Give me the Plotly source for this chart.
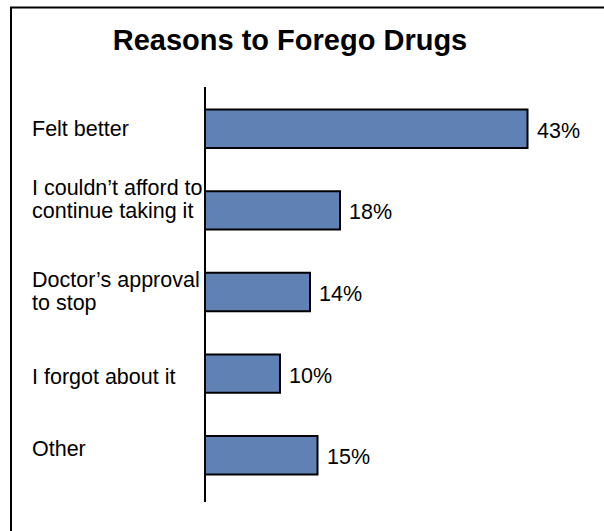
import plotly.graph_objects as go

# Survey results: reasons patients gave for stopping their medication
categories = [
    "Felt better",
    "I couldn’t afford to<br>continue taking it",
    "Doctor’s approval<br>to stop",
    "I forgot about it",
    "Other",
]
values = [43, 18, 14, 10, 15]
value_labels = ["43%", "18%", "14%", "10%", "15%"]
title_text = "Reasons to Forego Drugs"

W, H = 604, 531
plot_left, plot_right = 205, 595
plot_top, plot_bottom = 88, 496
px_per_pct = 7.5

FONT = "Arial, Liberation Sans, sans-serif"
BAR_COLOR = "#6081B3"
TEXT_SIZE = 21.5
LINE_PITCH = 23

pw = plot_right - plot_left
ph = plot_bottom - plot_top


def px_x(px):
    return (px - plot_left) / pw


def px_y(py):
    return (plot_bottom - py) / ph


fig = go.Figure(
    go.Bar(
        x=values,
        y=categories,
        orientation="h",
        width=0.47,
        marker=dict(color=BAR_COLOR, line=dict(color="black", width=2)),
        hoverinfo="skip",
    )
)

# category names, left-aligned in the left margin, one annotation per line
label_shift = [0, 11, 1, -3, 6]
for cat, dy in zip(categories, label_shift):
    lines = cat.split("<br>")
    n = len(lines)
    for i, line in enumerate(lines):
        offset = ((n - 1) / 2 - i) * LINE_PITCH
        fig.add_annotation(
            x=px_x(30), xref="paper", y=cat, yref="y",
            text=line, showarrow=False, xanchor="left", align="left",
            yshift=dy + offset,
            font=dict(family=FONT, size=TEXT_SIZE, color="black"),
        )

# value labels just past the end of each bar
for cat, v, lab in zip(categories, values, value_labels):
    fig.add_annotation(
        x=v, xref="x", y=cat, yref="y",
        text=lab, showarrow=False, xanchor="left", xshift=7, yshift=-2,
        font=dict(family=FONT, size=TEXT_SIZE, color="black"),
    )

# vertical category axis line
fig.add_shape(
    type="line", xref="paper", yref="paper",
    x0=0, x1=0, y0=px_y(502), y1=px_y(87),
    line=dict(color="black", width=2),
)

# outer frame (right and bottom edges run past the page)
fig.add_shape(
    type="rect", xref="paper", yref="paper",
    x0=px_x(11), x1=px_x(640), y0=px_y(7.5), y1=px_y(560),
    line=dict(color="black", width=2), fillcolor="rgba(0,0,0,0)",
    layer="below",
)

fig.update_layout(
    width=W, height=H,
    margin=dict(l=plot_left, r=W - plot_right, t=plot_top, b=H - plot_bottom),
    paper_bgcolor="white", plot_bgcolor="white",
    showlegend=False,
    title=dict(
        text=f"<b>{title_text}</b>", xref="paper", yref="container",
        x=px_x(290), xanchor="center", y=1 - 40 / H, yanchor="middle",
        font=dict(family=FONT, size=29, color="black"),
    ),
    xaxis=dict(range=[0, pw / px_per_pct], visible=False, fixedrange=True),
    yaxis=dict(
        type="category", categoryorder="array", categoryarray=categories,
        range=[len(categories) - 0.5, -0.5],
        showticklabels=False, showgrid=False, zeroline=False, showline=False,
        ticks="", fixedrange=True,
    ),
)

fig.write_html("out.html")
